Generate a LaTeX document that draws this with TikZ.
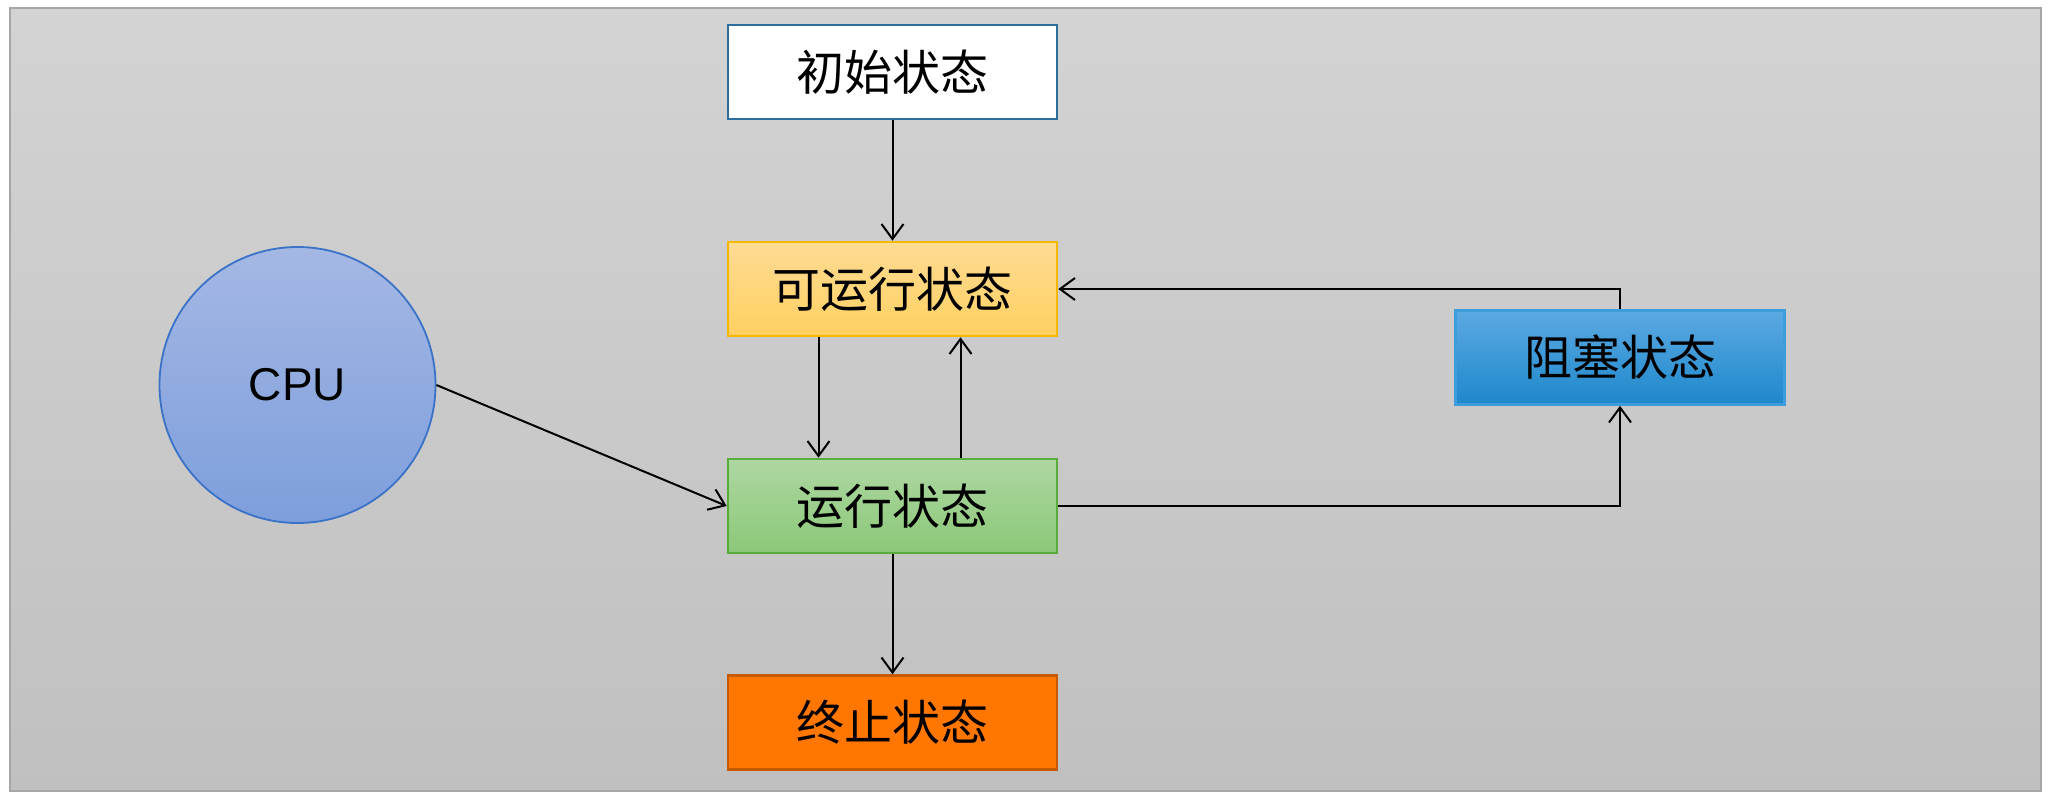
\documentclass[tikz,border=0pt]{standalone}
\usepackage{fontspec}
\setmainfont{Liberation Sans}
\newfontfamily\cjk{Noto Sans CJK SC}
\usetikzlibrary{arrows.meta}
\definecolor{bgtop}{HTML}{D3D3D3}
\definecolor{bgbot}{HTML}{C0C0C0}
\definecolor{bgline}{HTML}{A6A6A6}
\definecolor{initdraw}{HTML}{2E6E9E}
\definecolor{runtop}{HTML}{FFDB94}
\definecolor{runbot}{HTML}{FFD060}
\definecolor{rundraw}{HTML}{F5B800}
\definecolor{ingtop}{HTML}{AED7A2}
\definecolor{ingbot}{HTML}{8BC878}
\definecolor{ingdraw}{HTML}{5AAC3A}
\definecolor{endfill}{HTML}{FF7700}
\definecolor{enddraw}{HTML}{C55A00}
\definecolor{blktop}{HTML}{5CA9E2}
\definecolor{blkbot}{HTML}{1E88CC}
\definecolor{blkdraw}{HTML}{3C9CDC}
\definecolor{cputop}{HTML}{A5B8E4}
\definecolor{cpubot}{HTML}{7D9EDC}
\definecolor{cpudraw}{HTML}{3A72C8}
\tikzset{
  statebox/.style={rectangle, minimum width=164.5pt, minimum height=47pt, line width=1.3pt, inner sep=0pt, font=\cjk\fontsize{24}{28}\selectfont},
  conn/.style={line width=1pt, -{Straight Barb[length=7.5pt,width=11pt,line width=1pt]}},
}
\begin{document}
\begin{tikzpicture}[x=0.5pt, y=-0.5pt]
\useasboundingbox (0,0) rectangle (2048,798);
\shade[top color=bgtop, bottom color=bgbot] (10,8) rectangle (2041,791);
\draw[bgline, line width=1pt] (10,8) rectangle (2041,791);

\node[statebox, fill=white, draw=initdraw] (init) at (892.5,72) {初始状态};
\node[statebox, top color=runtop, bottom color=runbot, draw=rundraw] (runnable) at (892.5,289) {可运行状态};
\node[statebox, top color=ingtop, bottom color=ingbot, draw=ingdraw] (running) at (892.5,506) {运行状态};
\node[statebox, fill=endfill, draw=enddraw] (term) at (892.5,722.5) {终止状态};
\node[statebox, top color=blktop, bottom color=blkbot, draw=blkdraw] (blocked) at (1620,357.5) {阻塞状态};
\node[circle, minimum size=138pt, inner sep=0pt, line width=0.9pt, top color=cputop, bottom color=cpubot, draw=cpudraw, font=\fontsize{23}{28}\selectfont] (cpu) at (297.5,385) {CPU};

\draw[conn] (init.south) -- (runnable.north);
\draw[conn] ([xshift=-37pt]runnable.south) -- ([xshift=-37pt]running.north);
\draw[conn] ([xshift=34pt]running.north) -- ([xshift=34pt]runnable.south);
\draw[conn] (blocked.north) |- (runnable.east);
\draw[conn] (running.east) -| (blocked.south);
\draw[conn] (running.south) -- (term.north);
\draw[conn] (cpu.east) -- (running.west);
\end{tikzpicture}
\end{document}
